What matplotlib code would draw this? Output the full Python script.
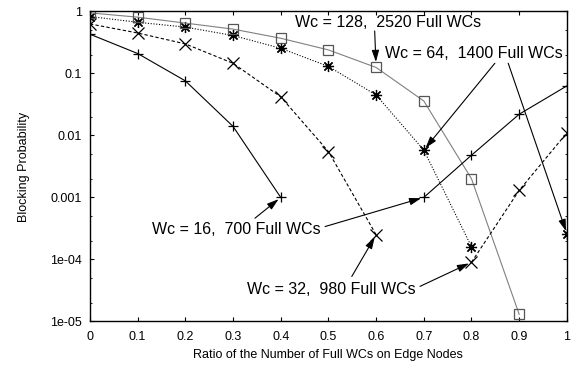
import matplotlib
matplotlib.use('Agg')
import matplotlib.pyplot as plt
from matplotlib.ticker import FixedLocator, LogLocator, NullFormatter

plt.rcParams['font.family'] = ['Liberation Sans', 'DejaVu Sans']

ratio = [0.0, 0.1, 0.2, 0.3, 0.4, 0.5, 0.6, 0.7, 0.8, 0.9, 1.0]

# blocking probability vs ratio (one curve per Wc)
wc16 = [0.43, 0.21, 0.076, 0.014, 0.001]
wc32 = [0.63, 0.45, 0.30, 0.146, 0.042, 0.0055, 2.5e-4]
wc64 = [0.83, 0.67, 0.56, 0.41, 0.255, 0.13, 0.045, 0.0058, 1.6e-4]
wc128 = [0.95, 0.81, 0.65, 0.52, 0.37, 0.24, 0.125, 0.036, 0.002, 1.3e-5]

# same Wc but with the stated number of full WCs
full16_x = [0.7, 0.8, 0.9, 1.0]
full16 = [0.001, 0.0048, 0.022, 0.063]
full32_x = [0.8, 0.9, 1.0]
full32 = [9e-5, 0.0013, 0.011]
full64_x = [1.0]
full64 = [2.6e-4]

ytick_vals = [1, 0.1, 0.01, 0.001, 1e-4, 1e-5]
ytick_labels = ['1', '0.1', '0.01', '0.001', '1e-04', '1e-05']
xtick_labels = ['0', '0.1', '0.2', '0.3', '0.4', '0.5', '0.6', '0.7', '0.8', '0.9', '1']

fig = plt.figure(figsize=(5.82, 3.65), dpi=100)
ax = fig.add_axes([0.1546, 0.1195, 0.8194, 0.849])

asterisk = (8, 2, 0)
s16 = dict(color='black', lw=0.8, ls='-', marker='+', ms=7.5, mew=0.9)
s32 = dict(color='black', lw=0.8, ls=(0, (3, 2)), marker='x', ms=8, mew=0.9)
s64 = dict(color='black', lw=0.8, ls=(0, (1, 1.5)), marker=asterisk, ms=8, mew=0.9)
s128 = dict(color='#808080', lw=0.8, ls='-', marker='s', ms=7, mew=0.9, mfc='none', mec='#555555')

ax.plot(ratio[:len(wc16)], wc16, **s16)
ax.plot(ratio[:len(wc32)], wc32, **s32)
ax.plot(ratio[:len(wc64)], wc64, **s64)
ax.plot(ratio[:len(wc128)], wc128, **s128)
ax.plot(full16_x, full16, **s16)
ax.plot(full32_x, full32, **s32)
ax.plot(full64_x, full64, **s64)

ax.set_yscale('log')
ax.set_ylim(1e-5, 1)
ax.set_xlim(0, 1)
ax.yaxis.set_major_locator(FixedLocator(ytick_vals))
ax.set_yticklabels(ytick_labels)
ax.yaxis.set_minor_locator(LogLocator(base=10, subs=(2.0, 5.0)))
ax.yaxis.set_minor_formatter(NullFormatter())
ax.set_xticks(ratio)
ax.set_xticklabels(xtick_labels)

ax.tick_params(which='both', direction='in', top=True, right=True, labelsize=9)
ax.tick_params(which='major', length=3, width=0.8, pad=6)
ax.tick_params(axis='x', which='major', pad=7)
ax.tick_params(which='minor', length=1.6, width=0.6)
for sp in ax.spines.values():
    sp.set_linewidth(1.0)

ax.set_xlabel('Ratio of the Number of Full WCs on Edge Nodes', fontsize=9)
ax.set_ylabel('Blocking Probability', fontsize=9)
ax.xaxis.set_label_coords(0.5, -0.088)
ax.yaxis.set_label_coords(-0.126, 0.5)

# annotations
tfs = 11.5
ax.text(0.43, 0.965, 'Wc = 128,  2520 Full WCs', transform=ax.transAxes, fontsize=tfs, va='center')
ax.text(0.618, 0.866, 'Wc = 64,  1400 Full WCs', transform=ax.transAxes, fontsize=tfs, va='center')
ax.text(0.13, 0.297, 'Wc = 16,  700 Full WCs', transform=ax.transAxes, fontsize=tfs, va='center')
ax.text(0.329, 0.102, 'Wc = 32,  980 Full WCs', transform=ax.transAxes, fontsize=tfs, va='center')

arrow = dict(arrowstyle='-|>,head_length=0.7,head_width=0.22', color='black',
             lw=0.8, mutation_scale=10, shrinkA=0)
arrows = [
    ((ratio[6], wc128[6]), (0.597, 0.937), 4),
    ((ratio[7], wc64[7]), (0.849, 0.833), 2),
    ((full64_x[0], full64[0]), (0.877, 0.833), 2),
    ((ratio[4], wc16[4]), (0.346, 0.333), 2),
    ((full16_x[0], full16[0]), (0.493, 0.306), 2),
    ((ratio[6], wc32[6]), (0.549, 0.145), 2),
    ((full32_x[0], full32[0]), (0.692, 0.113), 2),
]
for xy, xytext, shr in arrows:
    ax.annotate('', xy=xy, xytext=xytext, textcoords='axes fraction',
                arrowprops=dict(arrow, shrinkB=shr))

fig.savefig('out.png', dpi=100)
